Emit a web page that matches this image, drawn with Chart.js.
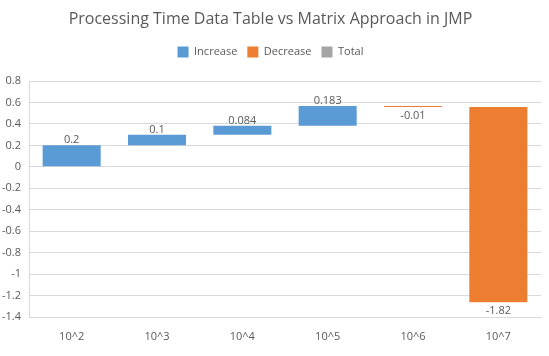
<!DOCTYPE html>
<html><head><meta charset="utf-8">
<script src="https://cdn.jsdelivr.net/npm/chart.js@4.4.1/dist/chart.umd.min.js"></script>
<style>html,body{margin:0;padding:0;background:#fff}#wrap{width:549px;height:356px}</style>
</head><body><div id="wrap"><canvas id="c" width="549" height="356"></canvas></div>
<script>
const categories = ["10^2","10^3","10^4","10^5","10^6","10^7"];
const changes = [0.2, 0.1, 0.084, 0.183, -0.01, -1.82];
const yTicks = [0.8,0.6,0.4,0.2,0,-0.2,-0.4,-0.6,-0.8,-1,-1.2,-1.4];

// build floating ranges
let run = 0;
const incData = [], decData = [];
changes.forEach(v => {
  const s = run, e = run + v; run = e;
  if (v >= 0) { incData.push([s, e]); decData.push(null); }
  else { decData.push([s, e]); incData.push(null); }
});

const FONT = "'Open Sans', 'Liberation Sans', sans-serif";
const labelPlugin = {
  id: 'wfLabels',
  afterDatasetsDraw(chart) {
    const ctx = chart.ctx;
    ctx.save();
    ctx.font = "11px " + FONT;
    ctx.fillStyle = "#595959";
    ctx.textAlign = "center";
    [0,1].forEach(di => {
      const meta = chart.getDatasetMeta(di);
      meta.data.forEach((el, i) => {
        const raw = chart.data.datasets[di].data[i];
        if (!raw) return;
        const v = changes[i];
        const top = Math.min(el.y, el.base), bot = Math.max(el.y, el.base);
        if (v >= 0) { ctx.textBaseline = "alphabetic"; ctx.fillText(String(v), el.x, top - 2); }
        else { ctx.textBaseline = "top"; ctx.fillText(String(v), el.x, bot + 3); }
      });
    });
    ctx.restore();
  }
};

const spacerPlugin = {
  id: 'spacer',
  beforeInit(chart) {
    const box = {
      position: 'top', weight: 0, fullSize: true, options: {},
      left: 0, top: 0, right: 0, bottom: 0, width: 0, height: 0,
      isHorizontal() { return true; },
      update(maxWidth) { this.width = maxWidth; this.height = 13.5; this.left = 0; this.right = maxWidth; },
      draw() {}
    };
    Chart.layouts.addBox(chart, box);
  }
};

new Chart(document.getElementById('c'), {
  type: 'bar',
  data: {
    labels: categories,
    datasets: [
      { label: 'Increase', data: incData, backgroundColor: '#5B9BD5', grouped: false, barPercentage: 0.68, categoryPercentage: 1 },
      { label: 'Decrease', data: decData, backgroundColor: '#ED7D31', grouped: false, barPercentage: 0.68, categoryPercentage: 1 },
      { label: 'Total', data: [], backgroundColor: '#A5A5A5', grouped: false }
    ]
  },
  options: {
    responsive: false,
    animation: false,
    layout: { padding: { left: 0, right: 8, top: 0, bottom: 0 } },
    plugins: {
      title: { display: true, text: 'Processing Time Data Table vs Matrix Approach in JMP', color: '#595959', font: { family: FONT, size: 16, weight: 'normal' }, padding: { top: 9.4, bottom: 7.9 } },
      legend: { labels: { boxWidth: 11, boxHeight: 11, color: '#595959', font: { family: FONT, size: 11 }, padding: 10 } },
      tooltip: { enabled: false }
    },
    scales: {
      x: {
        grid: { display: false },
        border: { color: '#d9d9d9' },
        ticks: { color: '#595959', font: { family: FONT, size: 11 }, padding: 5 },
        afterFit(s) { s.height = 39; }
      },
      y: {
        min: -1.4, max: 0.8,
        afterBuildTicks(s) { s.ticks = yTicks.map(v => ({ value: v })); },
        grid: { color: '#d9d9d9', drawTicks: false },
        border: { color: '#d9d9d9' },
        ticks: { color: '#595959', font: { family: FONT, size: 11 }, padding: 8, callback: v => String(parseFloat(v.toFixed(1))) },
        afterFit(s) { s.width = 29; }
      }
    }
  },
  plugins: [labelPlugin, spacerPlugin]
});
</script></body></html>
